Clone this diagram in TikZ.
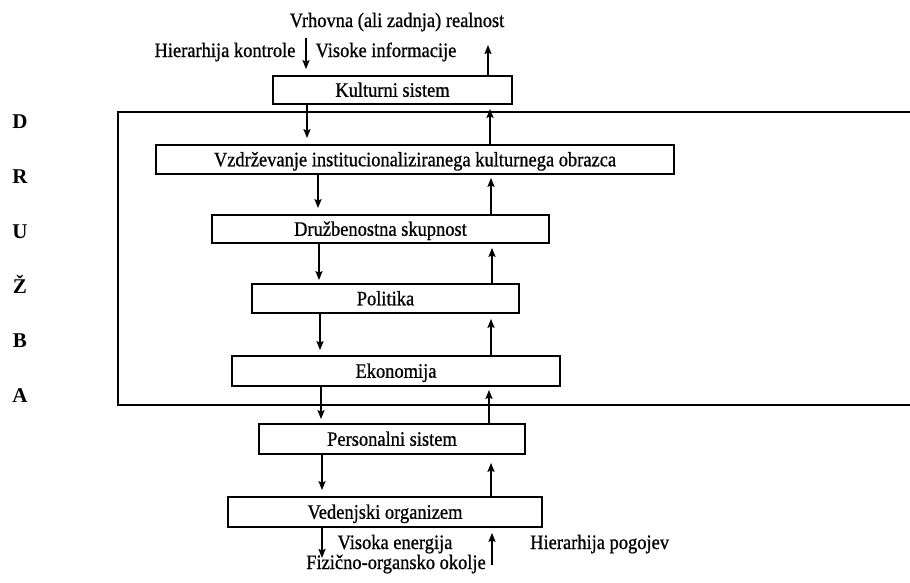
\documentclass[tikz,border=0pt]{standalone}
\usepackage{fontspec}
\setmainfont{Liberation Serif}[FakeStretch=0.9,FakeBold=0.8]
\newfontfamily\lettfont{Liberation Serif Bold}
\usetikzlibrary{arrows.meta}
\begin{document}
\begin{tikzpicture}[x=1pt,y=-1pt,
  font=\fontsize{20.5}{24}\selectfont,
  box/.style={draw, line width=1.7pt, inner sep=0pt, text height=13.5pt, text depth=0pt},
  arr/.style={line width=1.7pt, -{Stealth[length=9pt,width=7pt,inset=1.5pt]}},
  lbl/.style={inner sep=0pt, anchor=base},
  lett/.style={inner sep=0pt, anchor=base, font=\lettfont\fontsize{21}{24}\selectfont}]
\useasboundingbox (0,0) rectangle (910,582);

% frame (DRUŽBA)
\coordinate (fTR) at (910,112);
\coordinate (fTL) at (118,112);
\coordinate (fBL) at (118,405);
\coordinate (fBR) at (910,405);
\draw[line width=1.7pt] (fTR) -- (fTL) -- (fBL) -- (fBR);

% letters
\node[lett] (d1) at (20,128) {D};
\node[lett] (d2) at (20,183) {R};
\node[lett] (d3) at (20,238) {U};
\node[lett] (d4) at (20,293) {Ž};
\node[lett] (d5) at (20,347) {B};
\node[lett] (d6) at (20,402) {A};

% boxes
\node[box, minimum width=239pt, minimum height=28pt] (kult) at (392.5,90) {Kulturni sistem};
\node[box, minimum width=518pt, minimum height=29pt] (vzd) at (415,159.5) {Vzdrževanje institucionaliziranega kulturnega obrazca};
\node[box, minimum width=337pt, minimum height=28pt] (druz) at (380.5,229) {Družbenostna skupnost};
\node[box, minimum width=267pt, minimum height=29pt] (pol) at (385.5,298.5) {Politika};
\node[box, minimum width=328pt, minimum height=30pt] (eko) at (396,371) {Ekonomija};
\node[box, minimum width=266pt, minimum height=30pt] (pers) at (392,439) {Personalni sistem};
\node[box, minimum width=314pt, minimum height=30pt] (ved) at (385,512) {Vedenjski organizem};

% top labels
\node[lbl] (vrh) at (397,27) {Vrhovna (ali zadnja) realnost};
\node[lbl] (hk) at (225,57) {Hierarhija kontrole};
\node[lbl] (vi) at (386,57) {Visoke informacije};

% bottom labels
\node[lbl] (ve) at (395,549) {Visoka energija};
\node[lbl, anchor=base west] (hp) at (530,549) {Hierarhija pogojev};
\node[lbl] (fo) at (396,569) {Fizično-organsko okolje};

% x positions of arrows
\coordinate (La) at (307,0);
\coordinate (Lb) at (318,0);
\coordinate (Lc) at (319,0);
\coordinate (Ld) at (320,0);
\coordinate (Le) at (321,0);
\coordinate (Lf) at (322,0);
\coordinate (Ra) at (490,0);
\coordinate (Rb) at (491,0);
\coordinate (Rc) at (492,0);
\coordinate (Rd) at (491,0);
\coordinate (Re) at (489,0);
\coordinate (Rf) at (491,0);

% top arrows
\coordinate (Ltop) at (306,38);
\coordinate (Rtop) at (488,45);
\draw[arr, shorten >=6pt] (Ltop) -- (kult.north -| Ltop);
\draw[arr] (kult.north -| Rtop) -- (Rtop);

% downward arrows (hierarhija kontrole)
\draw[arr, shorten >=6pt] (kult.south -| La) -- (vzd.north -| La);
\draw[arr, shorten >=6pt] (vzd.south -| Lb) -- (druz.north -| Lb);
\draw[arr, shorten >=3pt] (druz.south -| Lc) -- (pol.north -| Lc);
\draw[arr, shorten >=5pt] (pol.south -| Ld) -- (eko.north -| Ld);
\draw[arr, shorten >=4pt] (eko.south -| Le) -- (pers.north -| Le);
\draw[arr, shorten >=6pt] (pers.south -| Lf) -- (ved.north -| Lf);

% upward arrows (hierarhija pogojev)
\draw[arr, shorten >=4pt] (vzd.north -| Ra) -- (kult.south -| Ra);
\draw[arr, shorten >=3pt] (druz.north -| Rb) -- (vzd.south -| Rb);
\draw[arr, shorten >=4pt] (pol.north -| Rc) -- (druz.south -| Rc);
\draw[arr, shorten >=5pt] (eko.north -| Rd) -- (pol.south -| Rd);
\draw[arr, shorten >=3pt] (pers.north -| Re) -- (eko.south -| Re);
\draw[arr, shorten >=8pt] (ved.north -| Rf) -- (pers.south -| Rf);

% bottom arrows
\coordinate (Lbot) at (322,558);
\coordinate (Rbot) at (492,565);
\draw[arr] (ved.south -| Lbot) -- (Lbot);
\draw[arr, shorten >=5pt] (Rbot) -- (ved.south -| Rbot);
\end{tikzpicture}
\end{document}
